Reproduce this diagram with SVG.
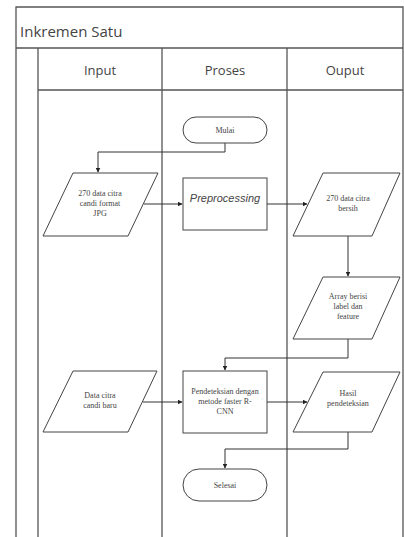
<svg xmlns="http://www.w3.org/2000/svg" width="404" height="537" viewBox="0 0 404 537">
<style>
.lane{fill:none;stroke:#555;stroke-width:1.3}
.shape{fill:#fff;stroke:#444;stroke-width:1}
.conn{fill:none;stroke:#333;stroke-width:1}
.title{font-family:"Open Sans","Liberation Sans",sans-serif;font-size:15px;fill:#444}
.head{font-family:"Open Sans","Liberation Sans",sans-serif;font-size:13px;fill:#444;text-anchor:middle}
.t{font-family:"Liberation Serif",serif;font-size:8px;fill:#444;text-anchor:middle}
.it{font-family:"Liberation Sans",sans-serif;font-size:11px;font-style:italic;fill:#444;text-anchor:middle}
</style>
<defs>
<marker id="arr" viewBox="0 0 10 10" refX="9" refY="5" markerWidth="5" markerHeight="5" orient="auto">
<path d="M0,0 L10,5 L0,10 z" fill="#222"/>
</marker>
</defs>
<rect width="404" height="537" fill="#fff"/>
<g id="pool">
<path class="lane" d="M16,540 L16,7 L403,7 L403,540"/>
<line class="lane" x1="16" y1="48" x2="403" y2="48"/>
<line class="lane" x1="38" y1="48" x2="38" y2="540"/>
<line class="lane" x1="162" y1="48" x2="162" y2="540"/>
<line class="lane" x1="287" y1="48" x2="287" y2="540"/>
<line class="lane" x1="38" y1="90" x2="403" y2="90"/>
<text class="title" x="20" y="37">Inkremen Satu</text>
<text class="head" x="100" y="75">Input</text>
<text class="head" x="225" y="75">Proses</text>
<text class="head" x="345" y="75">Ouput</text>
</g>
<g id="connectors">
<path class="conn" d="M225,143 L225,152 L98,152 L98,172" marker-end="url(#arr)"/>
<path class="conn" d="M144,204 L182,204" marker-end="url(#arr)"/>
<path class="conn" d="M267,204 L307,204" marker-end="url(#arr)"/>
<path class="conn" d="M348,236 L348,276" marker-end="url(#arr)"/>
<path class="conn" d="M348,339 L348,358 L225,358 L225,370" marker-end="url(#arr)"/>
<path class="conn" d="M143,402 L182,402" marker-end="url(#arr)"/>
<path class="conn" d="M267,402 L307,402" marker-end="url(#arr)"/>
<path class="conn" d="M348,432 L348,449 L225,449 L225,468" marker-end="url(#arr)"/>
</g>
<g id="mulai">
<rect class="shape" x="183" y="117" width="84" height="26" rx="13"/>
<text class="t" x="225" y="133">Mulai</text>
</g>
<g id="input1">
<polygon class="shape" points="73,173 158,173 128,236 43,236"/>
<text class="t" x="100" y="196">270 data citra</text>
<text class="t" x="100" y="206">candi format</text>
<text class="t" x="100" y="216">JPG</text>
</g>
<g id="preprocessing">
<rect class="shape" x="183" y="178" width="84" height="52"/>
<text class="it" x="225" y="202">Preprocessing</text>
</g>
<g id="output1">
<polygon class="shape" points="323,173 400,173 372,236 293,236"/>
<text class="t" x="348" y="201">270 data citra</text>
<text class="t" x="348" y="211">bersih</text>
</g>
<g id="output2">
<polygon class="shape" points="323,277 400,277 372,339 293,339"/>
<text class="t" x="348" y="299">Array berisi</text>
<text class="t" x="348" y="309">label dan</text>
<text class="t" x="348" y="319">feature</text>
</g>
<g id="input2">
<polygon class="shape" points="73,371 157,371 128,432 43,432"/>
<text class="t" x="100" y="398">Data citra</text>
<text class="t" x="100" y="408">candi baru</text>
</g>
<g id="deteksi">
<rect class="shape" x="183" y="371" width="84" height="62"/>
<text class="t" x="225" y="394">Pendeteksian dengan</text>
<text class="t" x="225" y="404">metode faster R-</text>
<text class="t" x="225" y="414">CNN</text>
</g>
<g id="output3">
<polygon class="shape" points="323,372 400,372 372,432 293,432"/>
<text class="t" x="348" y="396">Hasil</text>
<text class="t" x="348" y="406">pendeteksian</text>
</g>
<g id="selesai">
<rect class="shape" x="183" y="469" width="84" height="32" rx="16"/>
<text class="t" x="225" y="488">Selesai</text>
</g>
</svg>
